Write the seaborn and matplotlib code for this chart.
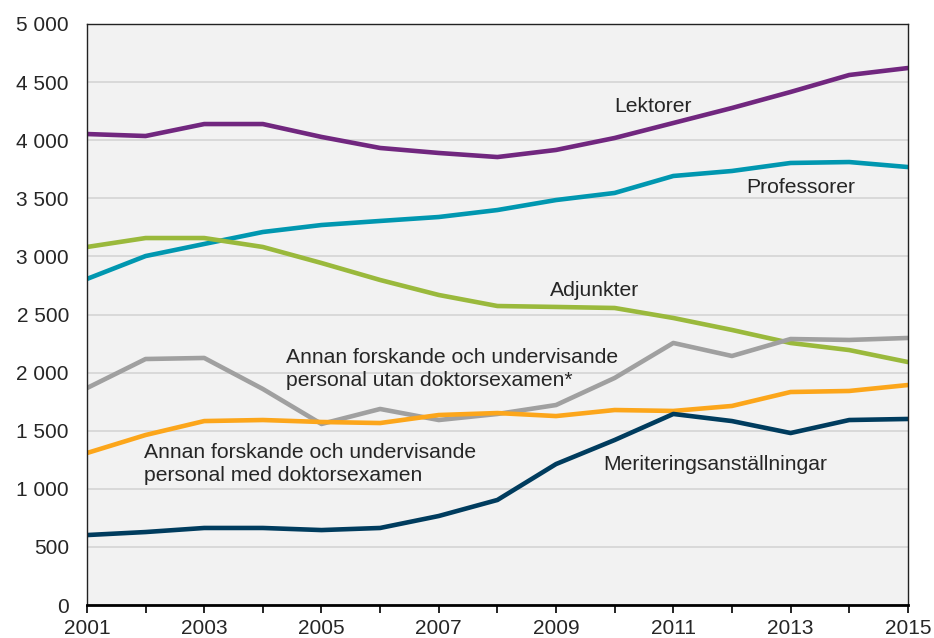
import pandas as pd
import matplotlib
matplotlib.use('Agg')
import matplotlib.pyplot as plt
from matplotlib.ticker import FuncFormatter
import seaborn as sns

# Data
years = list(range(2001, 2016))
lektorer = [4053, 4036, 4139, 4139, 4028, 3933, 3890, 3855, 3916, 4019, 4148, 4277, 4415, 4561, 4621]
professorer = [2806, 3003, 3107, 3210, 3270, 3305, 3339, 3399, 3485, 3546, 3692, 3735, 3804, 3812, 3769]
adjunkter = [3081, 3158, 3158, 3081, 2943, 2797, 2668, 2573, 2565, 2556, 2470, 2367, 2255, 2194, 2091]
annan_utan = [1867, 2117, 2126, 1859, 1558, 1687, 1592, 1644, 1721, 1954, 2255, 2143, 2289, 2281, 2298]
annan_med = [1308, 1463, 1583, 1592, 1575, 1566, 1635, 1652, 1626, 1678, 1670, 1713, 1833, 1842, 1893]
meritering = [602, 628, 663, 663, 645, 663, 766, 904, 1213, 1420, 1644, 1583, 1480, 1592, 1601]

series_names = ['Lektorer', 'Professorer', 'Adjunkter', 'Annan utan', 'Annan med', 'Meriteringsanställningar']
series_values = [lektorer, professorer, adjunkter, annan_utan, annan_med, meritering]
colors = ['#71277F', '#0097B0', '#9AB93C', '#A0A0A0', '#FCA61B', '#003C5E']

# Labels placed on the chart (left x in years, centre y in values)
labels = [
    ('Lektorer', 2010.0, 4290),
    ('Professorer', 2012.25, 3590),
    ('Adjunkter', 2008.9, 2710),
    ('Annan forskande och undervisande\npersonal utan doktorsexamen*', 2004.4, 2030),
    ('Annan forskande och undervisande\npersonal med doktorsexamen', 2001.97, 1215),
    ('Meriteringsanställningar', 2009.8, 1205),
]


def build_frame():
    rows = []
    for name, vals in zip(series_names, series_values):
        for y, v in zip(years, vals):
            rows.append({'year': y, 'value': v, 'serie': name})
    return pd.DataFrame(rows)


def main():
    sns.set_style('white')
    plt.rcParams['font.family'] = ['Liberation Sans', 'DejaVu Sans']

    df = build_frame()
    fig = plt.figure(figsize=(9.34, 6.38), dpi=100)
    ax = fig.add_axes([0.0931, 0.0517, 0.8789, 0.9107])
    ax.set_facecolor('#F2F2F2')

    sns.lineplot(data=df, x='year', y='value', hue='serie', hue_order=series_names,
                 palette=colors, linewidth=3.3, legend=False, ax=ax)

    ax.set_xlim(2001, 2015)
    ax.set_ylim(0, 5000)
    ax.set_yticks(range(0, 5001, 500))
    ax.yaxis.set_major_formatter(FuncFormatter(lambda v, p: f"{int(v):,}".replace(',', ' ')))
    ax.set_xticks(years)
    ax.set_xticklabels([str(y) if (y - 2001) % 2 == 0 else '' for y in years])
    ax.grid(axis='y', color='#D4D4D4', linewidth=1.2)
    ax.set_axisbelow(True)
    ax.set_xlabel('')
    ax.set_ylabel('')

    for s in ['top', 'right', 'left']:
        ax.spines[s].set_color('#222222')
        ax.spines[s].set_linewidth(1.0)
    ax.spines['bottom'].set_color('black')
    ax.spines['bottom'].set_linewidth(2.0)

    # keep the year labels inside the picture
    ax.tick_params(axis='x', direction='out', length=6, width=1.2, color='black',
                   bottom=True, labelsize=15, pad=4)
    ax.tick_params(axis='y', length=0, labelsize=15, pad=13)

    for text, x, y in labels:
        ax.text(x, y, text, ha='left', va='center', fontsize=15.2, linespacing=1.25)

    plt.savefig('out.png', dpi=100)
    plt.close()


if __name__ == "__main__":
    main()
